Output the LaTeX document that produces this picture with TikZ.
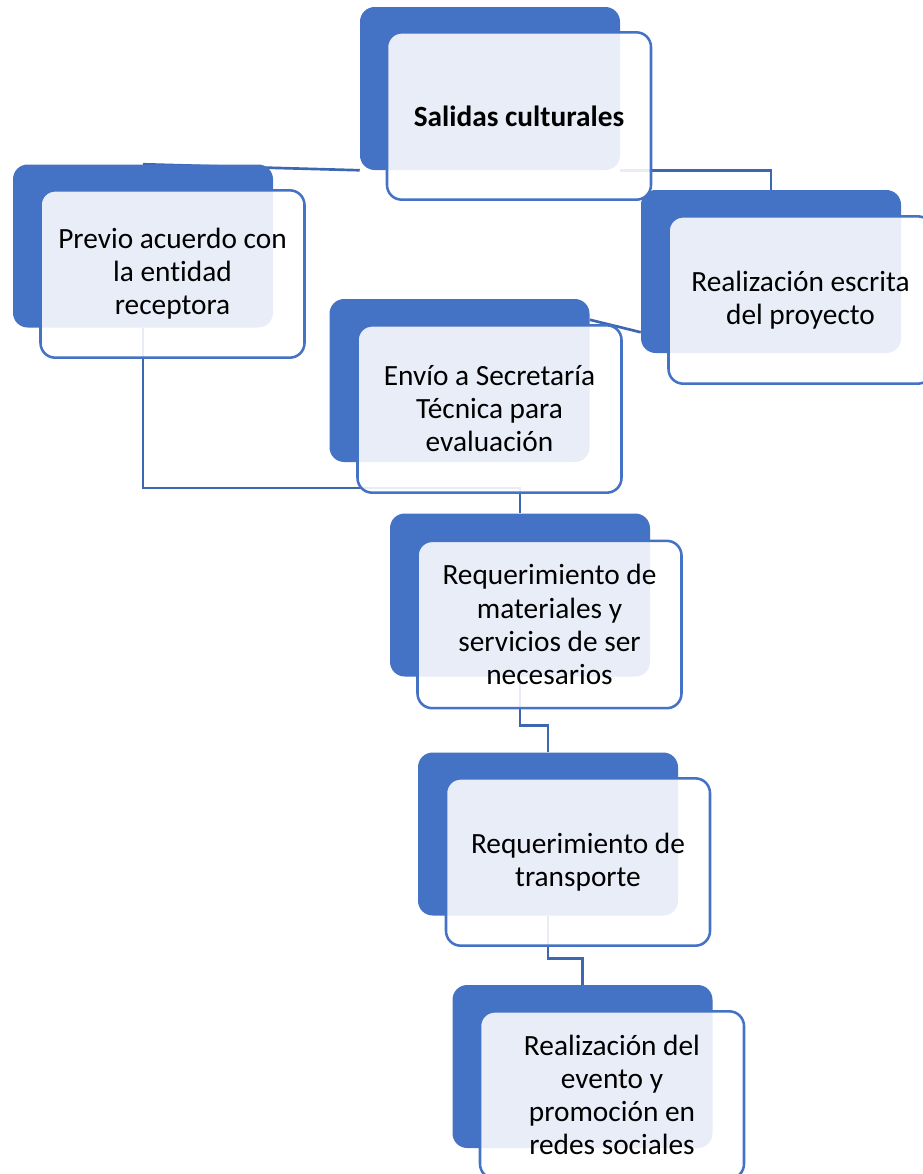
\documentclass[tikz,border=0pt]{standalone}
\usepackage{fontspec}
\setmainfont{Carlito}[Ligatures=NoCommon]
\usetikzlibrary{backgrounds}
\definecolor{accblue}{RGB}{68,114,196}
\tikzset{
  backbox/.style={fill=accblue, rounded corners=11pt, minimum width=195pt, minimum height=122.25pt, inner sep=0pt},
  frontbox/.style={draw=accblue, line width=1.9pt, fill=white, fill opacity=0.88, text opacity=1, rounded corners=11pt,
    minimum width=198pt, minimum height=125.5pt, inner sep=0pt, align=center, font=\fontsize{22pt}{24.8pt}\selectfont},
  link/.style={draw=accblue!90!black, line width=2pt},
}
\begin{document}
\begin{tikzpicture}[x=0.75pt,y=0.75pt,yscale=-1,xscale=1]
\useasboundingbox (0,0) rectangle (922,1174);

%Back Boxes
\node [backbox] (salB) at (490,88.5) {};
\node [backbox] (prevB) at (143,246) {};
\node [backbox] (realB) at (771,271.5) {};
\node [backbox] (envB) at (459.5,380.5) {};
\node [backbox] (matB) at (520,595) {};
\node [backbox] (transB) at (548,834) {};
\node [backbox] (evB) at (582.5,1066.5) {};

% Text Node
\node [frontbox] (sal) at ([shift={(29,27.5)}]salB.center) {\textbf{Salidas culturales}};
% Text Node
\node [frontbox] (prev) at ([shift={(29.5,28)}]prevB.center) {Previo acuerdo con\\la entidad\\receptora};
% Text Node
\node [frontbox] (real) at ([shift={(29.5,28.5)}]realB.center) {Realización escrita\\del proyecto};
% Text Node
\node [frontbox] (env) at ([shift={(30,28.5)}]envB.center) {Envío a Secretaría\\Técnica para\\evaluación};
% Text Node
\node [frontbox] (mat) at ([shift={(29.5,29.5)}]matB.center) {Requerimiento de\\materiales y\\servicios de ser\\necesarios};
% Text Node
\node [frontbox] (trans) at ([shift={(30,28)}]transB.center) {Requerimiento de\\transporte};
% Text Node
\node [frontbox] (ev) at ([shift={(29.5,28.5)}]evB.center) {Realización del\\evento y\\promoción en\\redes sociales};

%Connectors
\begin{scope}[on background layer]
\coordinate (bend) at (520,488);
\draw [link] (prevB.north) -- (salB.south west);
\draw [link] (salB.south east) -| (realB.north);
\draw [link] (envB.25) -- (realB.205);
\draw [link] (prevB.south) |- (bend) -- (matB.north);
\draw [link] (matB.south) -- ++(0,49) -| (transB.north);
\draw [link] (transB.south) -- ++(0,43) -| (evB.north);
\end{scope}

\end{tikzpicture}
\end{document}
